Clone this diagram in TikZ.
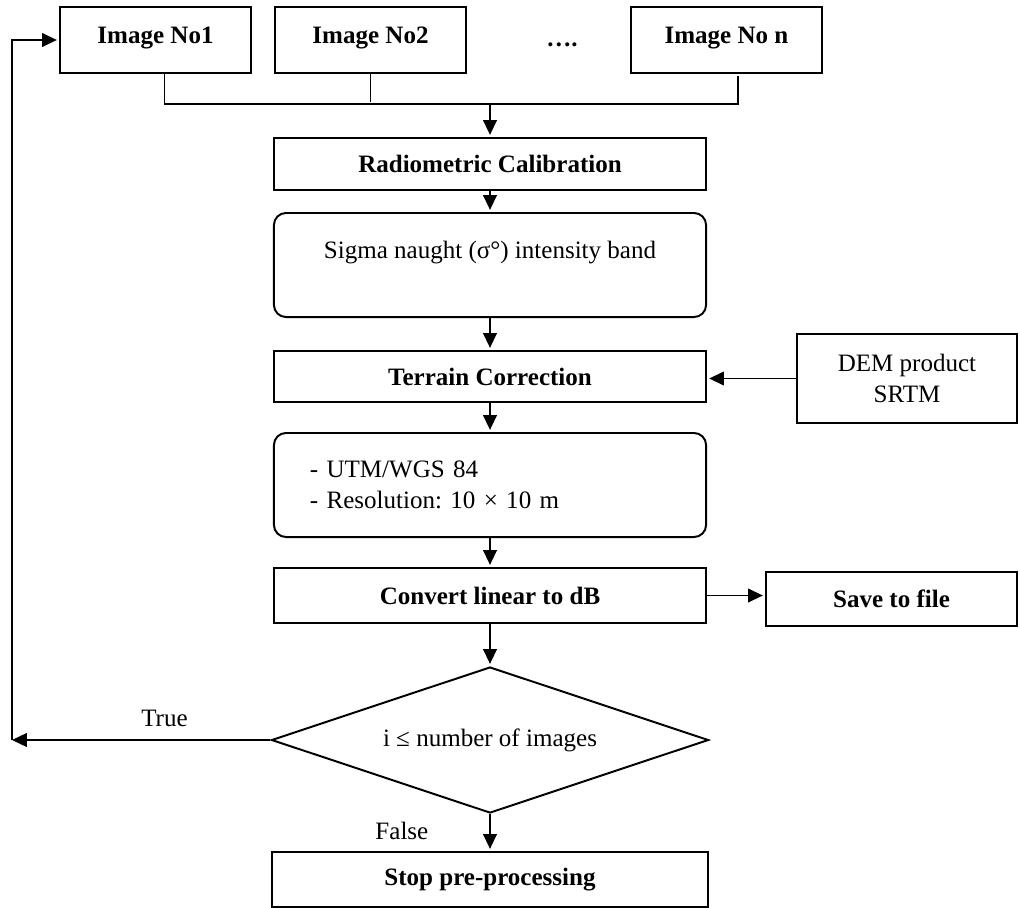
\documentclass[tikz,border=0pt]{standalone}
\usepackage{fontspec}
\setmainfont{Liberation Serif}
\frenchspacing
\usetikzlibrary{arrows.meta, positioning, shapes.geometric}

\begin{document}
\begin{tikzpicture}[x=0.025cm,y=-0.025cm,>={Triangle[length=0.37cm,width=0.34cm]},shorten >=1.5pt,
  line width=1.4pt,font=\fontsize{17.8}{22}\selectfont,
  flow box/.style={rectangle,draw,inner sep=0pt,minimum width=10.8cm,minimum height=1.3cm,font=\fontsize{17.8}{22}\selectfont\bfseries},
  image box/.style={flow box,minimum width=4.775cm,minimum height=1.65cm,text height=0.45cm,text depth=0.3cm},
  soft box/.style={rectangle,draw,rounded corners=0.3cm,inner sep=0pt,minimum width=10.8cm,minimum height=2.6cm},
  side box/.style={rectangle,draw,inner sep=0pt,minimum width=5.5cm,minimum height=2.225cm,align=center},
  test node/.style={diamond,draw,aspect=3,inner sep=0pt,minimum width=10.925cm,minimum height=3.65cm}]
  \useasboundingbox (0,0) rectangle (1020,908);
  \node[image box] (img1) at (155.5,40) {Image No1};
  \node[image box] (img2) at (370.5,40) {Image No2};
  \node[anchor=base,font=\fontsize{17.8}{22}\selectfont\bfseries] (dots) at (562,46) {….};
  \node[image box] (imgn) at (726.5,40) {Image No n};
  \node[flow box] (radio) at (490,164) {Radiometric Calibration};
  \node[soft box,text height=0.4cm,text depth=0.75cm] (sigma) at (490,265) {Sigma naught (σ°) intensity band};
  \node[flow box,minimum height=1.275cm] (terrain) at (490,376.5) {Terrain Correction};
  \node[side box] (dem) at (907,378.5) {DEM product\\SRTM};
  \node[soft box,align=left,text width=9cm,inner xsep=0.9cm] (utm) at (490,485) {- UTM/WGS 84\\- Resolution: 10 × 10 m};
  \node[flow box,minimum height=1.375cm] (convert) at (490,595.5) {Convert linear to dB};
  \node[flow box,minimum width=6.275cm,minimum height=1.35cm] (save) at (891.5,599) {Save to file};
  \node[test node] (cond) at (490,740) {i ≤ number of images};
  \node[flow box,minimum width=10.875cm,minimum height=1.375cm] (stop) at (490,879.5) {Stop pre-processing};

  \coordinate (b1) at (164.5,104);
  \coordinate (bn) at (738,104);
  \coordinate (bus) at (490,104);
  \coordinate (back) at (12,740);

  \draw (img1.south -| b1) -- (b1) -- (bn) -- (imgn.south -| bn);
  \draw (img2.south) -- (img2.south |- bus);
  \path[->]
    (bus) edge (radio)
    (radio) edge (sigma)
    (sigma) edge (terrain)
    (dem.west) edge (dem.west -| terrain.east)
    (terrain) edge (utm)
    (utm) edge (convert)
    (convert) edge (convert.east -| save.west)
    (convert) edge (cond)
    (cond) edge node[left=1.4cm,pos=0.45]{False} (stop)
    (cond.west) edge[shorten >=0pt] node[above=0.2cm,pos=0.41]{True} (back)
    (back) edge[to path={|- (\tikztotarget)}] (img1.west);
\end{tikzpicture}
\end{document}
